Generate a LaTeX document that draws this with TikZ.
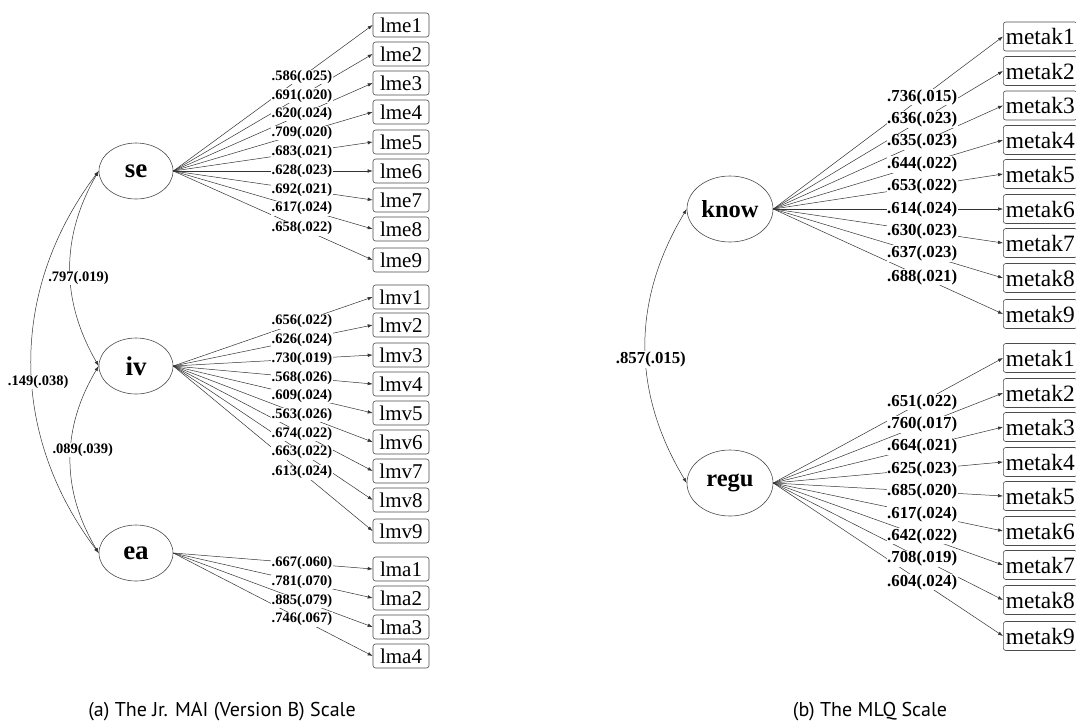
\documentclass[tikz,border=0pt]{standalone}
\usepackage{fontspec}
\setmainfont{Liberation Serif}
\newfontfamily\capfont{PT Sans}
\usetikzlibrary{shapes.geometric,arrows.meta}
\tikzset{
  lat/.style={ellipse, draw=black!70, line width=0.6pt, inner sep=0pt, fill=white},
  latL/.style={lat, minimum width=74pt, minimum height=56pt, font=\bfseries\fontsize{27}{27}\selectfont},
  latR/.style={lat, minimum width=86pt, minimum height=66pt, font=\bfseries\fontsize{24.5}{24.5}\selectfont},
  obsL/.style={rectangle, rounded corners=2.5pt, draw=black!70, line width=0.6pt, minimum width=56pt, minimum height=24pt, inner sep=0pt, font=\fontsize{21}{21}\selectfont},
  obsR/.style={rectangle, rounded corners=2.5pt, draw=black!70, line width=0.6pt, anchor=west, minimum height=29pt, inner xsep=2.5pt, inner ysep=0pt, font=\fontsize{23.4}{23.4}\selectfont},
  ld/.style={draw=black!80, line width=0.5pt, -{Latex[length=5pt,width=3.5pt]}},
  cl/.style={draw=black!80, line width=0.5pt, {Latex[length=5pt,width=3.5pt]}-{Latex[length=5pt,width=3.5pt]}},
  labL/.style={fill=white, inner sep=0.6pt, font=\bfseries\fontsize{14.5}{14.5}\selectfont},
  labR/.style={fill=white, inner sep=0.6pt, font=\bfseries\fontsize{16.8}{16.8}\selectfont},
  captext/.style={font=\capfont\fontsize{20}{20}\selectfont}
}
\begin{document}
\begin{tikzpicture}[x=1pt,y=-1pt]
\clip (0,0) rectangle (1076,723);
\fill[white] (0,0) rectangle (1076,723);
% latent variables
\node[latL] (se) at (136,171) {se};
\node[latL] (iv) at (136,366) {iv};
\node[latL] (ea) at (136,553) {ea};
\node[latR] (know) at (730,209) {know};
\node[latR] (regu) at (730,483) {regu};
% observed, left
\foreach \i/\y in {1/25,2/54,3/83,4/112,5/142,6/171,7/200,8/229,9/260}
  \node[obsL] (lme\i) at (401,\y) {lme\i};
\foreach \i/\y in {1/297,2/325,3/355,4/384,5/413,6/442,7/471,8/500,9/531}
  \node[obsL] (lmv\i) at (401,\y) {lmv\i};
\foreach \i/\y in {1/569,2/598,3/627,4/656}
  \node[obsL] (lma\i) at (401,\y) {lma\i};
% observed, right
\foreach \i/\y in {1/36.5,2/71,3/105.5,4/140,5/174,6/209,7/243,8/278,9/314}
  \node[obsR] (mk\i) at (1003,\y) {metak\i};
\foreach \i/\y in {1/358,2/393,3/427,4/462,5/496,6/531,7/565,8/600,9/636}
  \node[obsR] (mr\i) at (1003,\y) {metak\i};
% loadings
\foreach \i in {1,...,9} \draw[ld] (se.east) -- (lme\i.west);
\foreach \i in {1,...,9} \draw[ld] (iv.east) -- (lmv\i.west);
\foreach \i in {1,...,4} \draw[ld] (ea.east) -- (lma\i.west);
\foreach \i in {1,...,9} \draw[ld] (know.east) -- (mk\i.west);
\foreach \i in {1,...,9} \draw[ld] (regu.east) -- (mr\i.west);
% loading labels
\foreach \i/\t in {1/.586(.025),2/.691(.020),3/.620(.024),4/.709(.020),5/.683(.021),6/.628(.023),7/.692(.021),8/.617(.024),9/.658(.022)}
  \path (se.east) -- (lme\i.west) node[labL,pos=0.645] {\t};
\foreach \i/\t in {1/.656(.022),2/.626(.024),3/.730(.019),4/.568(.026),5/.609(.024),6/.563(.026),7/.674(.022),8/.663(.022),9/.613(.024)}
  \path (iv.east) -- (lmv\i.west) node[labL,pos=0.645] {\t};
\foreach \i/\t in {1/.667(.060),2/.781(.070),3/.885(.079),4/.746(.067)}
  \path (ea.east) -- (lma\i.west) node[labL,pos=0.645] {\t};
\foreach \i/\t in {1/.736(.015),2/.636(.023),3/.635(.023),4/.644(.022),5/.653(.022),6/.614(.024),7/.630(.023),8/.637(.023),9/.688(.021)}
  \path (know.east) -- (mk\i.west) node[labR,pos=0.648] {\t};
\foreach \i/\t in {1/.651(.022),2/.760(.017),3/.664(.021),4/.625(.023),5/.685(.020),6/.617(.024),7/.642(.022),8/.708(.019),9/.604(.024)}
  \path (regu.east) -- (mr\i.west) node[labR,pos=0.648] {\t};
% correlations
\draw[cl] (se.west) to[bend right=37] node[labL,pos=0.55,xshift=6pt] {.149(.038)} (ea.west);
\draw[cl] (se.west) to[bend right=30] node[labL,pos=0.55,xshift=8pt] {.797(.019)} (iv.west);
\draw[cl] (iv.west) to[bend right=31] node[labL,pos=0.45,xshift=12pt] {.089(.039)} (ea.west);
\draw[cl] (know.west) to[bend right=31] node[labR,pos=0.55,xshift=5pt] {.857(.015)} (regu.west);
% captions
\node[captext] (capa) at (222,712) {(a) The Jr. MAI (Version B) Scale};
\node[captext] (capb) at (870,712) {(b) The MLQ Scale};
\end{tikzpicture}
\end{document}
